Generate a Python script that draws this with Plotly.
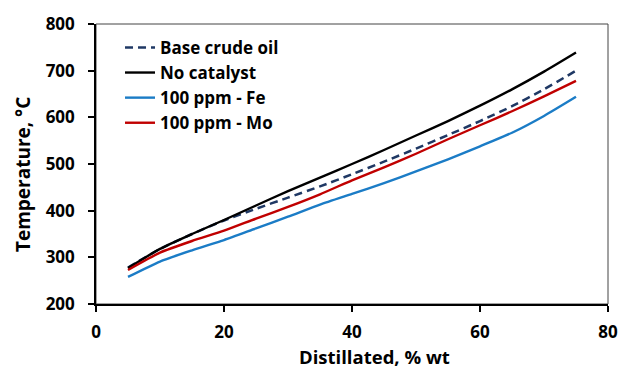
import plotly.graph_objects as go

# Distillation curves (simulated distillation), temperature vs % wt distilled
distilled = [5, 10, 15, 20, 25, 30, 35, 40, 45, 50, 55, 60, 65, 70, 75]

base_crude = [278, 318, 350, 379, 404, 428, 452, 478, 505, 533, 562, 592, 624, 660, 700]
no_catalyst = [277, 318, 350, 380, 411, 442, 471, 500, 530, 561, 592, 625, 660, 698, 739]
fe_100 = [258, 291, 315, 337, 362, 387, 413, 436, 459, 484, 510, 538, 567, 603, 644]
mo_100 = [273, 310, 335, 357, 383, 408, 435, 465, 493, 522, 553, 583, 613, 645, 678]

series_names = ["Base crude oil", "No catalyst", "100 ppm - Fe", "100 ppm - Mo"]
x_ticks = [0, 20, 40, 60, 80]
y_ticks = [200, 300, 400, 500, 600, 700, 800]

FONT = "'Open Sans', Lato, 'Liberation Sans', sans-serif"

fig = go.Figure()
styles = [
    (base_crude, dict(color="#1F3864", width=2.5, dash="8px,5px")),
    (no_catalyst, dict(color="#000000", width=2.4)),
    (fe_100, dict(color="#1B7CC6", width=2.4)),
    (mo_100, dict(color="#C00000", width=2.4)),
]
for name, (vals, line) in zip(series_names, styles):
    fig.add_trace(go.Scatter(
        x=distilled, y=vals, mode="lines", name=name,
        line=dict(shape="spline", smoothing=0.6, **line),
    ))

axis_common = dict(
    showgrid=False, zeroline=False, showline=True, linecolor="#000000",
    linewidth=1.6, ticks="outside", ticklen=6, tickwidth=1.5, tickcolor="#000000",
    tickfont=dict(family=FONT, size=17, color="#000000", weight="bold"),
    automargin=False,
)

fig.update_layout(
    width=622, height=370,
    margin=dict(l=96, r=14, t=24, b=66, autoexpand=False),
    paper_bgcolor="white", plot_bgcolor="white",
    xaxis=dict(range=[0, 80], tickvals=x_ticks, ticklabelstandoff=6, **axis_common),
    yaxis=dict(range=[200, 800], tickvals=y_ticks, ticklabelstandoff=10, **axis_common),
    legend=dict(
        x=(120 - 96) / 511.7, y=0.979, xanchor="left", yanchor="top",
        bgcolor="rgba(0,0,0,0)",
        font=dict(family=FONT, size=17, color="#000000", weight="bold"),
        tracegroupgap=0,
    ),
    shapes=[dict(type="rect", xref="paper", yref="paper", x0=0, x1=1, y0=0, y1=1,
                 line=dict(color="#444444", width=1), layer="below")],
    annotations=[
        dict(text="Distillated, % wt", xref="paper", yref="paper",
             x=(374 - 96) / 511.7, y=-(357 - 304) / 280.3, xanchor="center", yanchor="middle",
             showarrow=False, font=dict(family=FONT, size=18.5, color="#000000", weight="bold")),
        dict(text="Temperature, °C", xref="paper", yref="paper", textangle=-90,
             x=-(96 - 23) / 511.7, y=(304 - 174) / 280.3, xanchor="center", yanchor="middle",
             showarrow=False, font=dict(family=FONT, size=19, color="#000000", weight="bold")),
    ],
)

fig.write_html("out.html")
